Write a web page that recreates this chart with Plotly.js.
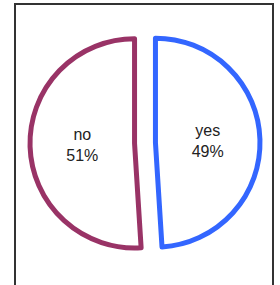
<!DOCTYPE html>
<html>
<head>
<meta charset="utf-8">
<script src="https://cdn.plot.ly/plotly-3.0.1.min.js"></script>
<style>
html,body{margin:0;padding:0;width:280px;height:285px;overflow:hidden;background:#fff;}
#chart{position:absolute;left:0;top:0;width:280px;height:285px;}
#frame{position:absolute;left:14px;top:3px;width:256px;height:320px;border:2px solid #333;pointer-events:none;}
</style>
</head>
<body>
<div id="chart"></div>
<div id="frame"></div>
<script>
const labels = ["yes", "no"];
const values = [49, 51];
const lineColors = ["#3366ff", "#993366"];

Plotly.newPlot("chart", [{
  type: "pie",
  labels: labels,
  values: values,
  sort: false,
  direction: "clockwise",
  rotation: 0,
  pull: [0.1, 0.1],
  textinfo: "label+percent",
  textposition: "inside",
  insidetextorientation: "horizontal",
  textfont: {family: "Liberation Sans, Arial, sans-serif", size: 16, color: "#222"},
  marker: {colors: ["#ffffff", "#ffffff"], line: {color: lineColors, width: 5}},
  hoverinfo: "none"
}], {
  width: 280,
  height: 285,
  margin: {l: 30, r: 20, t: 28, b: 27},
  showlegend: false,
  paper_bgcolor: "#ffffff"
}, {displayModeBar: false, staticPlot: true});
</script>
</body>
</html>
